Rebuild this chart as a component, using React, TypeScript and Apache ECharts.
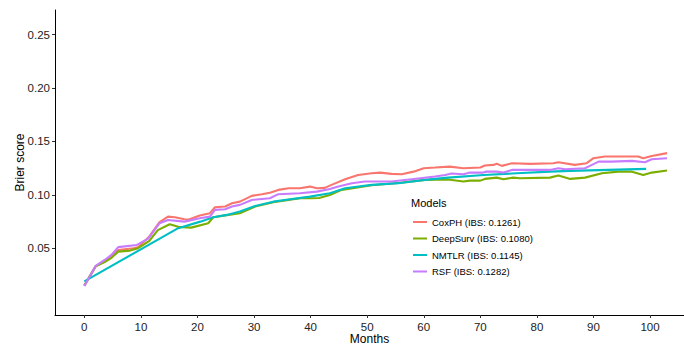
import React, { useEffect, useRef } from "react";
import * as echarts from "echarts";

const monthTicks = [0, 10, 20, 30, 40, 50, 60, 70, 80, 90, 100];
const scoreTicks = [0.05, 0.1, 0.15, 0.2, 0.25];

const seriesNames = [
  "CoxPH (IBS: 0.1261)",
  "DeepSurv (IBS: 0.1080)",
  "NMTLR (IBS: 0.1145)",
  "RSF (IBS: 0.1282)",
];
const seriesColors = ["#F8766D", "#7CAE00", "#00BFC4", "#C77CFF"];

const coxMonths = [0, 2, 3.6, 4.8, 6, 8.7, 9.5, 11.5, 13.3, 14.8, 16, 17.7, 18.5, 20.4, 22.2, 23.1, 24.9, 26.1, 27.5, 29.6, 31.4, 32.8, 34.3, 36.1, 38.1, 39.9, 41.1, 42.5, 43.7, 46.1, 48.4, 50.8, 52.3, 54.3, 56.1, 58.2, 60, 62, 64.6, 67, 70, 70.8, 72.3, 72.9, 73.8, 75.6, 78.8, 82.9, 83.8, 86.7, 88.8, 90, 92, 97.9, 98.8, 100.3, 103];
const coxValues = [0.015, 0.033, 0.038, 0.043, 0.0484, 0.05, 0.051, 0.061, 0.0745, 0.0796, 0.079, 0.0771, 0.0768, 0.0806, 0.0828, 0.0884, 0.089, 0.0921, 0.0936, 0.099, 0.1006, 0.102, 0.1046, 0.1062, 0.1062, 0.1077, 0.1062, 0.1065, 0.1093, 0.1146, 0.1186, 0.1202, 0.1208, 0.1196, 0.1193, 0.1217, 0.1249, 0.1255, 0.1264, 0.1249, 0.1255, 0.1274, 0.128, 0.129, 0.1271, 0.1296, 0.129, 0.1296, 0.1305, 0.128, 0.1296, 0.1343, 0.1358, 0.1358, 0.1343, 0.1364, 0.139];

const deepMonths = [0, 2, 3.6, 4.8, 6, 8.1, 9.5, 11.5, 13, 15.1, 16.6, 18.9, 21.9, 22.8, 25.2, 27.5, 30.2, 33.4, 36.4, 38.5, 39.9, 41.5, 43.4, 45.5, 50.8, 55.5, 60.2, 64.3, 67, 68.2, 70, 70.8, 72.9, 74.1, 75.8, 77, 82.3, 83.8, 85.9, 88.5, 91.5, 94.4, 96.8, 98.8, 100.3, 103];
const deepValues = [0.015, 0.033, 0.037, 0.041, 0.0468, 0.0478, 0.05, 0.057, 0.067, 0.0725, 0.07, 0.0693, 0.0734, 0.079, 0.081, 0.0828, 0.089, 0.093, 0.0955, 0.097, 0.0968, 0.097, 0.0999, 0.1046, 0.109, 0.111, 0.114, 0.1143, 0.1124, 0.1133, 0.1133, 0.1149, 0.1161, 0.1146, 0.1161, 0.1155, 0.1161, 0.118, 0.1149, 0.1161, 0.1202, 0.1217, 0.1217, 0.1186, 0.1208, 0.1227];

const nmtlrMonths = [0, 16.6, 20.5, 22.8, 25.2, 27.5, 30.2, 33.4, 36.4, 39.9, 43.4, 46.1, 50.8, 55.5, 60.2, 64.3, 70.6, 76.4, 82.3, 85.9, 99.3];
const nmtlrValues = [0.019, 0.0688, 0.0749, 0.079, 0.0812, 0.0843, 0.0896, 0.0936, 0.0959, 0.0983, 0.1015, 0.1062, 0.1093, 0.1109, 0.114, 0.1161, 0.1186, 0.1202, 0.1217, 0.1224, 0.1243];

const rsfMonths = [0, 2, 3.6, 4.8, 6, 9.3, 11.3, 13.3, 14.8, 17.7, 20.4, 22.2, 23.1, 24.9, 26.1, 27.5, 29.6, 32.8, 34.3, 38.1, 41.1, 43.4, 44.9, 47.3, 49.6, 54.3, 57.9, 62, 63.8, 64.9, 67, 68.2, 70.5, 71.1, 72.9, 74.1, 75.6, 82.3, 83.8, 85, 88.5, 89.1, 90.9, 93.2, 96.8, 99.1, 100.3, 103];
const rsfValues = [0.0147, 0.0334, 0.039, 0.0437, 0.051, 0.0531, 0.059, 0.0734, 0.0765, 0.0749, 0.078, 0.0796, 0.0859, 0.0865, 0.089, 0.0906, 0.0952, 0.0968, 0.1006, 0.1015, 0.103, 0.1055, 0.1077, 0.1109, 0.1124, 0.1124, 0.1146, 0.1171, 0.1186, 0.12, 0.1193, 0.1208, 0.1208, 0.1217, 0.1217, 0.1208, 0.1233, 0.1233, 0.1249, 0.124, 0.1249, 0.1264, 0.1311, 0.1311, 0.1318, 0.1305, 0.1333, 0.1343];

const allMonths = [coxMonths, deepMonths, nmtlrMonths, rsfMonths];
const allValues = [coxValues, deepValues, nmtlrValues, rsfValues];

const FONT = "Liberation Sans, Arial, sans-serif";

export default function App() {
  const ref = useRef<HTMLDivElement>(null);
  useEffect(() => {
    document.body.style.margin = "0";
    if (!ref.current) return;
    const chart = echarts.init(ref.current, undefined, { renderer: "svg" });
    chart.setOption({
      animation: false,
      backgroundColor: "#ffffff",
      textStyle: { fontFamily: FONT },
      grid: { left: 55, top: 10, width: 629, height: 305, containLabel: false, outerBoundsMode: "none" },
      xAxis: {
        type: "value",
        min: -5.18,
        max: 106.0,
        name: "Months",
        nameLocation: "middle",
        nameGap: 18,
        nameMoveOverlap: false,
        nameTextStyle: { color: "#000", fontSize: 12, fontFamily: FONT, verticalAlign: "top" },
        axisLine: { onZero: false, lineStyle: { color: "#000", width: 1 } },
        axisTick: { show: true, length: 3, customValues: monthTicks, lineStyle: { color: "#333" } },
        axisLabel: { customValues: monthTicks, color: "#222", fontSize: 11.5, margin: 6, fontFamily: FONT },
        splitLine: { show: false },
      },
      yAxis: {
        type: "value",
        min: -0.0125,
        max: 0.273,
        name: "Brier score",
        nameLocation: "middle",
        nameGap: 29,
        nameMoveOverlap: false,
        nameTextStyle: { color: "#000", fontSize: 12, fontFamily: FONT },
        axisLine: { show: true, onZero: false, lineStyle: { color: "#000", width: 1 } },
        axisTick: { show: true, length: 3, customValues: scoreTicks, lineStyle: { color: "#333" } },
        axisLabel: {
          customValues: scoreTicks,
          color: "#222",
          fontSize: 11.5,
          margin: 5,
          fontFamily: FONT,
          formatter: (v: number) => v.toFixed(2),
        },
        splitLine: { show: false },
      },
      legend: {
        orient: "vertical",
        left: 413,
        top: 217,
        padding: 0,
        itemWidth: 14,
        itemHeight: 2,
        itemGap: 6.5,
        icon: "rect",
        textStyle: { fontSize: 9.5, color: "#000", fontFamily: FONT },
        data: seriesNames,
      },
      graphic: [
        {
          type: "text",
          left: 411,
          top: 197,
          style: { text: "Models", fontSize: 11, fill: "#000", fontFamily: FONT },
        },
      ],
      series: seriesNames.map((name, i) => ({
        name,
        type: "line",
        showSymbol: false,
        symbol: "none",
        color: seriesColors[i],
        lineStyle: { width: 2.1, color: seriesColors[i] },
        data: allMonths[i].map((m, j) => [m, allValues[i][j]]),
      })),
    });
    return () => chart.dispose();
  }, []);
  return <div ref={ref} style={{ width: 684, height: 345, overflow: "hidden" }} />;
}
